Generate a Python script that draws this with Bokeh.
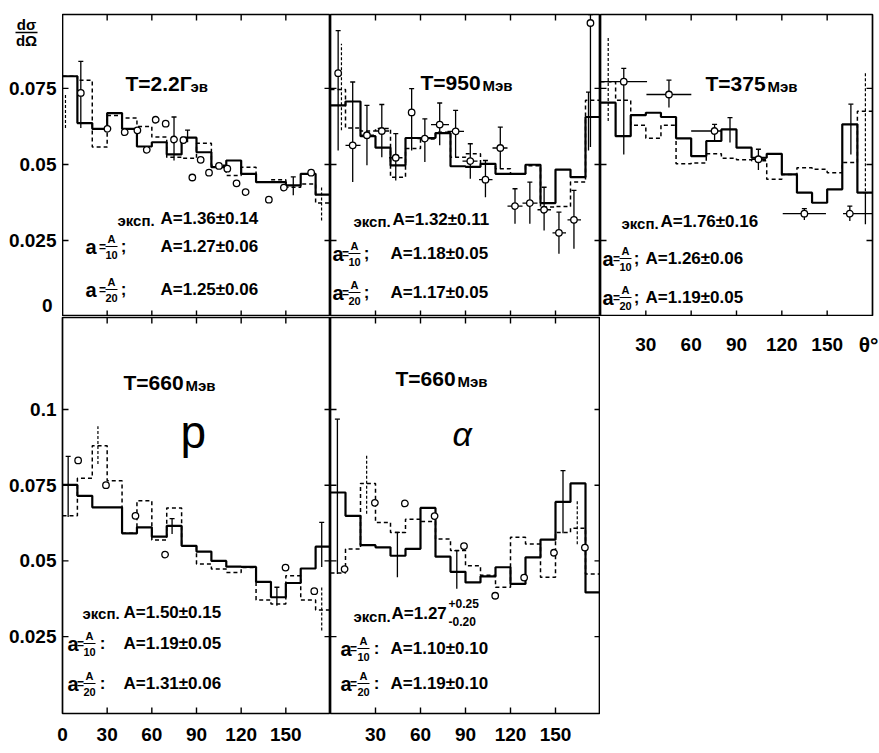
from bokeh.plotting import figure
from bokeh.layouts import row, column
from bokeh.models import Range1d, LinearAxis, FixedTicker, Label, NumeralTickFormatter
from bokeh.embed import file_html
from bokeh.resources import INLINE

FONT = "Liberation Sans"

# ---------------- data ----------------
theta_edges = [0, 10, 20, 30, 40, 50, 60, 70, 80, 90, 100, 110, 120, 130, 140, 150, 160, 170, 180]
x_ticks = [30, 60, 90, 120, 150]
x_ticks_labelled = [0, 30, 60, 90, 120, 150]
y_ticks_top = [0.025, 0.05, 0.075]
y_labels_top = ["0.025", "0.05", "0.075"]
y_ticks_bottom = [0.025, 0.05, 0.075, 0.1]

# Panel 1: T = 2.2 GeV
p1_solid = [0.079, 0.0636, 0.0617, 0.0669, 0.0617, 0.0559, 0.0573, 0.0533, 0.0588, 0.054,
            0.0491, 0.0513, 0.0469, 0.0442, 0.0442, 0.0431, 0.0469, 0.0401]
p1_dashed = [0.079, 0.0777, 0.0557, 0.0661, 0.0653, 0.0625, 0.059, 0.0524, 0.052, 0.057,
             0.0497, 0.0464, 0.0491, 0.0442, 0.045, 0.0425, 0.0436, 0.0373]
p1_pt_theta = [12.3, 30.2, 41.8, 50.3, 56.6, 62.6, 69.3, 74.9, 81.2, 87.2, 92.8, 98.4, 105.1,
               110.7, 116.9, 123, 138.6, 148.7, 167]
p1_pt_val = [0.0735, 0.0617, 0.0606, 0.0612, 0.0548, 0.0647, 0.0634, 0.0582, 0.058, 0.0457,
             0.0515, 0.0473, 0.0495, 0.0486, 0.0438, 0.0409, 0.0384, 0.0424, 0.0473]
p1_bar_theta = [12.3, 74.9, 84, 155]
p1_bar_lo = [0.062, 0.0513, 0.0573, 0.0399]
p1_bar_hi = [0.0839, 0.0656, 0.0613, 0.0459]
p1_dbar_theta = [2, 174]
p1_dbar_lo = [0.062, 0.0316]
p1_dbar_hi = [0.0735, 0.0426]
p1_hbar_y = []
p1_hbar_lo = []
p1_hbar_hi = []

# Panel 2: T = 950 MeV
p2_solid = [0.0694, 0.0707, 0.0593, 0.0555, 0.0497, 0.0587, 0.0587, 0.0603, 0.0494, 0.0492,
            0.0502, 0.0469, 0.0469, 0.0499, 0.0373, 0.0483, 0.0458, 0.0656]
p2_dashed = [0.0746, 0.062, 0.061, 0.0618, 0.0458, 0.0552, 0.0584, 0.0606, 0.0524, 0.0535,
             0.0502, 0.0486, 0.0469, 0.0496, 0.036, 0.0362, 0.0442, 0.0711]
p2_pt_theta = [5.1, 14.8, 24.3, 34.2, 43.5, 54.1, 62.9, 72.8, 83.4, 93.2, 103.3, 113.2, 123,
               132.9, 142.4, 152.3, 162.3, 173.3]
p2_pt_val = [0.080, 0.0563, 0.0596, 0.061, 0.0522, 0.0671, 0.0585, 0.0631, 0.0609, 0.0511,
             0.045, 0.0554, 0.0363, 0.0373, 0.0351, 0.0275, 0.0318, 0.0965]
p2_bar_theta = [5.1, 14.8, 24.3, 34.2, 43.5, 54.1, 62.9, 72.8, 83.4, 93.2, 103.3, 113.2, 123,
                132.9, 142.4, 152.3, 162.3, 173.3, 172]
p2_bar_lo = [0.0546, 0.0442, 0.0497, 0.0524, 0.0447, 0.0546, 0.0508, 0.0563, 0.0524, 0.0453,
             0.0392, 0.0486, 0.0305, 0.0305, 0.0283, 0.0206, 0.0223, 0.0557, 0.0546]
p2_bar_hi = [0.094, 0.0771, 0.0694, 0.0697, 0.0601, 0.0749, 0.065, 0.0702, 0.0678, 0.0568,
             0.0513, 0.0623, 0.042, 0.0442, 0.0425, 0.0343, 0.0415, 0.0993, 0.0738]
p2_dbar_theta = [7.3]
p2_dbar_lo = [0.0612]
p2_dbar_hi = [0.0897]
p2_hbar_y = [0.0563, 0.0596, 0.061, 0.0522, 0.0585, 0.0631, 0.0609, 0.0511, 0.045, 0.0554,
             0.0363, 0.0373, 0.0351, 0.0275, 0.0318]
p2_hbar_lo = [10, 20, 30, 39, 58, 67, 78, 88, 99, 108, 118, 128, 138, 148, 158]
p2_hbar_hi = [20, 29, 39, 48, 68, 79, 89, 98, 108, 118, 128, 138, 147, 157, 167]

# Panel 3: T = 375 MeV
p3_solid = [0.0703, 0.0593, 0.0662, 0.067, 0.0656, 0.0586, 0.0527, 0.0577, 0.0615, 0.0555,
            0.0522, 0.0535, 0.0467, 0.0407, 0.0374, 0.0418, 0.0632, 0.0407]
p3_dashed = [0.0772, 0.0711, 0.0629, 0.0586, 0.0629, 0.0502, 0.0505, 0.0535, 0.052, 0.0515,
             0.0512, 0.0451, 0.0467, 0.0489, 0.0484, 0.0473, 0.0506, 0.0675]
p3_pt_theta = [15.4, 45.3, 75.5, 104.5, 134.9, 165]
p3_pt_val = [0.0772, 0.073, 0.061, 0.0517, 0.0338, 0.0338]
p3_bar_theta = [15.4, 45.3, 75.5, 104.5, 134.9, 165, 85.7, 165.7, 175.3]
p3_bar_lo = [0.0533, 0.0687, 0.0577, 0.0482, 0.0317, 0.0314, 0.0572, 0.0533, 0.0303]
p3_bar_hi = [0.0816, 0.0777, 0.0632, 0.055, 0.0355, 0.0363, 0.0654, 0.0698, 0.0407]
p3_dbar_theta = [5.1, 175.3]
p3_dbar_lo = [0.0643, 0.0412]
p3_dbar_hi = [0.0917, 0.0802]
p3_hbar_y = [0.0772, 0.073, 0.061, 0.0517, 0.0338, 0.0338]
p3_hbar_lo = [0, 30.4, 60, 100, 120.6, 160.5]
p3_hbar_hi = [30.8, 60.1, 80, 109.5, 149.2, 180]

# Panel 4: T = 660 MeV, p
p4_solid = [0.0751, 0.0715, 0.0677, 0.0677, 0.0591, 0.0611, 0.058, 0.0616, 0.055, 0.0531,
            0.05, 0.0481, 0.048, 0.0431, 0.038, 0.0427, 0.0475, 0.0547]
p4_dashed = [0.0649, 0.0773, 0.088, 0.0765, 0.0591, 0.0699, 0.0569, 0.0675, 0.055, 0.049,
             0.0473, 0.0462, 0.0478, 0.0371, 0.0358, 0.0451, 0.0371, 0.0338]
p4_pt_theta = [10.5, 29.2, 49, 68.9, 149.8, 169.1]
p4_pt_val = [0.0832, 0.075, 0.0649, 0.0521, 0.0478, 0.04]
p4_bar_theta = [3.8, 73.6, 144, 174.1]
p4_bar_lo = [0.0645, 0.0589, 0.0352, 0.048]
p4_bar_hi = [0.0845, 0.064, 0.0413, 0.0627]
p4_dbar_theta = [23.8, 174.1]
p4_dbar_lo = [0.082, 0.027]
p4_dbar_hi = [0.0945, 0.0413]
p4_hbar_y = []
p4_hbar_lo = []
p4_hbar_hi = []

# Panel 5: T = 660 MeV, alpha
p5_solid = [0.0726, 0.0649, 0.0552, 0.0545, 0.0517, 0.054, 0.0675, 0.0514, 0.0464, 0.0429,
            0.0449, 0.0479, 0.0424, 0.0512, 0.057, 0.0695, 0.0756, 0.0396]
p5_dashed = [0.046, 0.0539, 0.0756, 0.0627, 0.0594, 0.0638, 0.063, 0.0572, 0.0534, 0.0484,
             0.0453, 0.0413, 0.0578, 0.0556, 0.0446, 0.0594, 0.0608, 0.0457]
p5_pt_theta = [9.4, 29.6, 49.6, 69.4, 89, 109.8, 129.1, 149, 169.6]
p5_pt_val = [0.0473, 0.0692, 0.069, 0.0648, 0.0549, 0.0385, 0.0445, 0.0527, 0.0544]
p5_bar_theta = [4.6, 44.6, 84.2, 155]
p5_bar_lo = [0.0457, 0.0446, 0.0408, 0.0591]
p5_bar_hi = [0.0968, 0.0594, 0.0534, 0.0798]
p5_dbar_theta = [24.1, 164.5]
p5_dbar_lo = [0.0656, 0.0555]
p5_dbar_hi = [0.0854, 0.0699]
p5_hbar_y = []
p5_hbar_lo = []
p5_hbar_hi = []

# ---------------- layout geometry (page pixels) ----------------
TOP_RANGE = (0.0, 0.0993)
BOT_RANGE = (-0.0004, 0.1304)
GEOM = {
    "p0": dict(x0=0, x1=62, xr=(0, 62), yt=14, yb=316, r=TOP_RANGE),
    "p1": dict(x0=62, x1=330, xr=(0, 180), yt=14, yb=316, r=TOP_RANGE),
    "p2": dict(x0=330, x1=600, xr=(0, 180), yt=14, yb=316, r=TOP_RANGE),
    "p3": dict(x0=600, x1=872, xr=(0, 180), yt=14, yb=316, r=TOP_RANGE),
    "p4": dict(x0=62, x1=330, xr=(0, 180), yt=317, yb=713, r=BOT_RANGE),
    "p5": dict(x0=330, x1=600, xr=(0, 180), yt=317, yb=713, r=BOT_RANGE),
    "p6": dict(x0=600, x1=879, xr=(0, 180 * 279 / 272), yt=317, yb=713, r=(0.0, 1.0)),
}


def dx(g, X):
    a, b = g["xr"]
    return a + (X - g["x0"]) / (g["x1"] - g["x0"]) * (b - a)


def dy(g, Y):
    lo, hi = g["r"]
    return lo + (g["yb"] - Y) / (g["yb"] - g["yt"]) * (hi - lo)


def make_fig(g, width, height, bl, br, bt, bb, frame=True):
    p = figure(width=width, height=height, x_range=Range1d(*g["xr"]), y_range=Range1d(*g["r"]),
               output_backend="svg", toolbar_location=None,
               x_axis_location=None, y_axis_location=None,
               min_border=0, min_border_left=bl, min_border_right=br,
               min_border_top=bt, min_border_bottom=bb,
               background_fill_color="white", border_fill_color="white",
               outline_line_color="black" if frame else None, outline_line_width=1.7)
    try:
        p.grid.visible = False
    except Exception:
        pass
    return p


def label_axis(ticks, size=19, standoff=6):
    return LinearAxis(ticker=FixedTicker(ticks=ticks), axis_line_color=None,
                      major_tick_in=0, major_tick_out=0, minor_tick_line_color=None,
                      major_label_text_font=FONT, major_label_text_font_size=f"{size}px",
                      major_label_text_font_style="bold", major_label_text_color="black",
                      major_label_standoff=standoff)


def add_ticks(p, g, yticks, length=6):
    lo, hi = g["r"]
    ty = length / (g["yb"] - g["yt"]) * (hi - lo)
    tx = length / (g["x1"] - g["x0"]) * 180.0
    n = len(x_ticks)
    m = len(yticks)
    p.segment(x0=x_ticks + x_ticks, y0=[hi] * n + [lo] * n,
              x1=x_ticks + x_ticks, y1=[hi - ty] * n + [lo + ty] * n,
              line_color="black", line_width=1.4)
    p.segment(x0=[0] * m + [180] * m, y0=yticks + yticks,
              x1=[tx] * m + [180 - tx] * m, y1=yticks + yticks,
              line_color="black", line_width=1.4)


def draw_panel(p, solid, dashed, pt_t, pt_v, bar_t, bar_lo, bar_hi,
               dbar_t, dbar_lo, dbar_hi, hb_y, hb_lo, hb_hi):
    p.step(x=theta_edges, y=solid + [solid[-1]], mode="after",
           line_color="black", line_width=2.2)
    p.step(x=theta_edges, y=dashed + [dashed[-1]], mode="after",
           line_color="black", line_width=1.5, line_dash="4 3")
    if dbar_t:
        p.segment(x0=dbar_t, y0=dbar_lo, x1=dbar_t, y1=dbar_hi,
                  line_color="black", line_width=1.2, line_dash="3 2")
    if bar_t:
        p.segment(x0=bar_t, y0=bar_lo, x1=bar_t, y1=bar_hi, line_color="black", line_width=1.3)
        p.scatter(x=bar_t, y=bar_hi, marker="dash", size=5, line_color="black", line_width=1.3)
    if hb_y:
        p.segment(x0=hb_lo, y0=hb_y, x1=hb_hi, y1=hb_y, line_color="black", line_width=1.3)
    p.scatter(x=pt_t, y=pt_v, marker="circle", size=6.5, fill_color="white",
              line_color="black", line_width=1.3)


def label(p, g, X, Y, text, size, align="left", baseline="middle", style="bold"):
    p.add_layout(Label(x=dx(g, X), y=dy(g, Y), text=text, text_font=FONT,
                       text_font_size=f"{size}px", text_font_style=style,
                       text_align=align, text_baseline=baseline, text_color="black"))


def hbar(p, g, Xa, Xb, Y, w=1.2):
    p.line(x=[dx(g, Xa), dx(g, Xb)], y=[dy(g, Y), dy(g, Y)], line_color="black", line_width=w)


def frac_line(p, g, X, Y, den, sep, Xa, Xeq, Xs, Xr, result):
    label(p, g, Xa, Y, "a", 20)
    label(p, g, Xeq, Y, "=", 12, align="center")
    label(p, g, X, Y - 8, "A", 11, align="center")
    hbar(p, g, X - 6, X + 6, Y)
    label(p, g, X, Y + 8, den, 11, align="center")
    label(p, g, Xs, Y, sep, 17, align="center")
    label(p, g, Xr, Y, result, 17)


def title(p, g, X, Y, big, small, Xs):
    label(p, g, X, Y, big, 21)
    label(p, g, Xs, Y + 3, small, 15)


# ---------------- figures ----------------
g0, g1, g2, g3, g4, g5, g6 = (GEOM[k] for k in ("p0", "p1", "p2", "p3", "p4", "p5", "p6"))
p0 = make_fig(g0, 62, 316, 0, 0, 14, 0, frame=False)
p1 = make_fig(g1, 268, 316, 0, 0, 14, 0)
p2 = make_fig(g2, 270, 316, 0, 0, 14, 0)
p3 = make_fig(g3, 279, 316, 0, 7, 14, 0)
p4 = make_fig(g4, 330, 437, 62, 0, 1, 40)
p5 = make_fig(g5, 270, 437, 0, 0, 1, 40)
p6 = make_fig(g6, 279, 437, 0, 0, 1, 40, frame=False)

# labelled axes (bottom row)
ly4 = label_axis(y_ticks_bottom, 19, 6)
ly4.formatter = NumeralTickFormatter(format="0.[000]")
p4.add_layout(ly4, "left")
p4.add_layout(label_axis(x_ticks_labelled, 19, 14), "below")
p5.add_layout(label_axis(x_ticks, 19, 14), "below")

for p, g, yt in ((p1, g1, y_ticks_top), (p2, g2, y_ticks_top), (p3, g3, y_ticks_top),
                 (p4, g4, y_ticks_bottom), (p5, g5, y_ticks_bottom)):
    add_ticks(p, g, yt)

draw_panel(p1, p1_solid, p1_dashed, p1_pt_theta, p1_pt_val, p1_bar_theta, p1_bar_lo, p1_bar_hi,
           p1_dbar_theta, p1_dbar_lo, p1_dbar_hi, p1_hbar_y, p1_hbar_lo, p1_hbar_hi)
draw_panel(p2, p2_solid, p2_dashed, p2_pt_theta, p2_pt_val, p2_bar_theta, p2_bar_lo, p2_bar_hi,
           p2_dbar_theta, p2_dbar_lo, p2_dbar_hi, p2_hbar_y, p2_hbar_lo, p2_hbar_hi)
draw_panel(p3, p3_solid, p3_dashed, p3_pt_theta, p3_pt_val, p3_bar_theta, p3_bar_lo, p3_bar_hi,
           p3_dbar_theta, p3_dbar_lo, p3_dbar_hi, p3_hbar_y, p3_hbar_lo, p3_hbar_hi)
draw_panel(p4, p4_solid, p4_dashed, p4_pt_theta, p4_pt_val, p4_bar_theta, p4_bar_lo, p4_bar_hi,
           p4_dbar_theta, p4_dbar_lo, p4_dbar_hi, p4_hbar_y, p4_hbar_lo, p4_hbar_hi)
draw_panel(p5, p5_solid, p5_dashed, p5_pt_theta, p5_pt_val, p5_bar_theta, p5_bar_lo, p5_bar_hi,
           p5_dbar_theta, p5_dbar_lo, p5_dbar_hi, p5_hbar_y, p5_hbar_lo, p5_hbar_hi)

# ---------------- texts ----------------
# top-left: y tick labels of the top row and the axis name
for v, s in zip(y_ticks_top, y_labels_top):
    p0.add_layout(Label(x=dx(g0, 56), y=v, text=s, text_font=FONT, text_font_size="19px",
                        text_font_style="bold", text_align="right", text_baseline="middle",
                        text_color="black"))
label(p0, g0, 52, 305, "0", 19, align="right")
label(p0, g0, 26, 24, "dσ", 15, align="center")
hbar(p0, g0, 15, 37, 32, 1.5)
label(p0, g0, 26, 40, "dΩ", 15, align="center")

# x tick labels of the 375 MeV panel and the theta symbols
for t in x_ticks:
    p6.add_layout(Label(x=t, y=dy(g6, 344), text=str(t), text_font=FONT, text_font_size="19px",
                        text_font_style="bold", text_align="center", text_baseline="middle",
                        text_color="black"))
label(p6, g6, 878, 344, "θ°", 21, align="right")
label(p6, g6, 601, 735, "θ°", 21, align="left")

# panel 1
title(p1, g1, 125, 83, "T=2.2Г", "эв", 190)
label(p1, g1, 117, 220, "эксп.", 15)
label(p1, g1, 160, 218, "A=1.36±0.14", 17)
frac_line(p1, g1, 111, 246, "10", ";", 85, 102, 123, 160, "A=1.27±0.06")
frac_line(p1, g1, 111, 289, "20", ";", 85, 102, 123, 160, "A=1.25±0.06")

# panel 2
title(p2, g2, 420, 82, "T=950", "Мэв", 482)
label(p2, g2, 353, 221, "эксп.", 15)
label(p2, g2, 392, 219, "A=1.32±0.11", 17)
frac_line(p2, g2, 354, 253, "10", ";", 332, 345, 366, 390, "A=1.18±0.05")
frac_line(p2, g2, 354, 292, "20", ";", 332, 345, 366, 390, "A=1.17±0.05")

# panel 3
title(p3, g3, 705, 83, "T=375", "Мэв", 767)
label(p3, g3, 621, 223, "эксп.", 15)
label(p3, g3, 660, 221, "A=1.76±0.16", 17)
frac_line(p3, g3, 625, 258, "10", ";", 602, 616, 636, 645, "A=1.26±0.06")
frac_line(p3, g3, 625, 297, "20", ";", 602, 616, 636, 645, "A=1.19±0.05")

# panel 4
title(p4, g4, 123, 382, "T=660", "Мэв", 185)
label(p4, g4, 180, 431, "p", 46, baseline="alphabetic", style="normal")
label(p4, g4, 82, 613, "эксп.", 15)
label(p4, g4, 123, 612, "A=1.50±0.15", 17)
frac_line(p4, g4, 89, 643, "10", ":", 67, 80, 102, 123, "A=1.19±0.05")
frac_line(p4, g4, 89, 683, "20", ":", 67, 80, 102, 123, "A=1.31±0.06")

# panel 5
title(p5, g5, 395, 378, "T=660", "Мэв", 457)
label(p5, g5, 452, 433, "α", 34, baseline="alphabetic", style="italic")
label(p5, g5, 353, 616, "эксп.", 15)
label(p5, g5, 391, 613, "A=1.27", 17)
label(p5, g5, 448, 603, "+0.25", 12)
label(p5, g5, 448, 621, "-0.20", 12)
frac_line(p5, g5, 363, 648, "10", ":", 340, 353, 376, 390, "A=1.10±0.10")
frac_line(p5, g5, 363, 683, "20", ":", 340, 353, 376, 390, "A=1.19±0.10")

layout = column(row(p0, p1, p2, p3), row(p4, p5, p6))
open("out.html", "w").write(file_html(layout, INLINE, "chart"))
